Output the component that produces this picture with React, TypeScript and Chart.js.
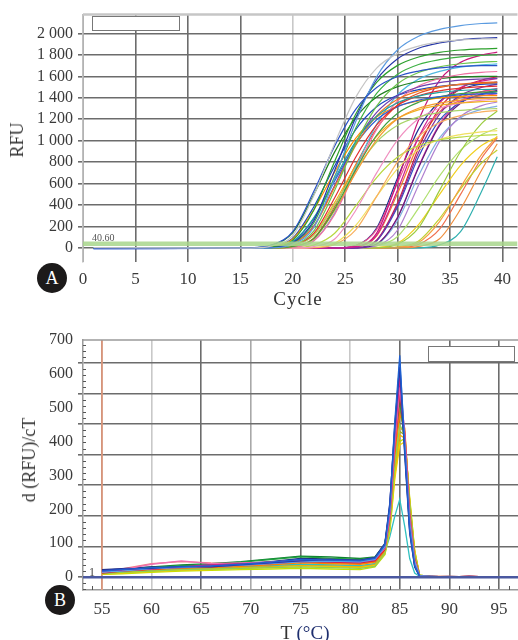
import React, { useEffect, useRef } from 'react';
import { Chart, registerables } from 'chart.js';

Chart.register(...registerables);

const FONT = "'Liberation Serif', 'DejaVu Serif', serif";

// ---------- Panel A: amplification curves ----------
const cycles = [1, 16, 18, 20, 22, 24, 26, 28, 30, 32, 34, 36, 38, 39.5];
const ampXTicks = [0, 5, 10, 15, 20, 25, 30, 35, 40];
const ampYTicks = [0, 200, 400, 600, 800, 1000, 1200, 1400, 1600, 1800, 2000];
const AMP_X_MIN = 0;
const AMP_X_MAX = 41.43;
const AMP_Y_MIN = -130;
const AMP_Y_MAX = 2175;
const THRESHOLD = 40.6;
const THRESHOLD_LABEL = '40.60';

const ampColors = [
  '#c4c4c4', '#2a52c8', '#5b9be0', '#2838a8', '#2ca02c', '#3cb043', '#6cc44c', '#20a0a0',
  '#f07820', '#e03030', '#3060d0', '#40a040', '#f59a30', '#7040b0', '#f070a0', '#a8d468',
  '#ff8c00', '#1848c0', '#208020', '#50b8e0', '#f0b020', '#e85020', '#f090c0', '#f8b060',
  '#b8d840', '#f0e060', '#d02090', '#8030a0', '#c8187a', '#3050c0', '#602080', '#e85090',
  '#d02040', '#b080d0', '#80b0e0', '#203090', '#e040a0', '#f08030', '#9ccc40', '#f09040',
  '#30b0b0', '#f0d020', '#f6a040', '#b0e070', '#c0d030', '#f07050',
];

const ampCurves: number[][] = [
  [3, 0, 20, 117, 488, 975, 1404, 1677, 1814, 1882, 1921, 1940, 1948, 1950],
  [-5, 2, 29, 153, 527, 952, 1292, 1496, 1598, 1649, 1678, 1693, 1700, 1700],
  [2, 0, 2, 36, 189, 651, 1176, 1596, 1848, 1974, 2037, 2073, 2092, 2098],
  [-3, 0, 4, 49, 255, 725, 1215, 1568, 1764, 1862, 1911, 1940, 1954, 1960],
  [4, 0, 9, 74, 353, 809, 1246, 1544, 1702, 1780, 1823, 1845, 1856, 1860],
  [0, 0, 4, 45, 234, 666, 1116, 1440, 1620, 1710, 1755, 1782, 1795, 1800],
  [-2, 0, 2, 30, 157, 539, 974, 1322, 1531, 1636, 1688, 1717, 1733, 1738],
  [3, 0, 7, 59, 281, 644, 992, 1228, 1354, 1416, 1450, 1468, 1477, 1480],
  [-4, 0, 3, 39, 200, 570, 955, 1232, 1386, 1463, 1502, 1525, 1535, 1540],
  [1, 0, 2, 26, 136, 468, 846, 1148, 1329, 1419, 1465, 1490, 1504, 1508],
  [-6, 0, 7, 58, 274, 626, 965, 1195, 1318, 1378, 1411, 1428, 1437, 1440],
  [2, 0, 0, 15, 88, 365, 730, 1051, 1256, 1358, 1409, 1438, 1453, 1457],
  [-3, 0, 0, 14, 84, 350, 700, 1008, 1204, 1302, 1351, 1379, 1393, 1397],
  [1, 0, 3, 40, 205, 585, 980, 1264, 1422, 1501, 1541, 1564, 1575, 1580],
  [0, 0, 0, 8, 66, 314, 718, 1106, 1370, 1510, 1579, 1617, 1637, 1645],
  [3, 0, 1, 22, 117, 403, 728, 988, 1144, 1222, 1261, 1283, 1295, 1299],
  [-2, 0, 14, 85, 355, 710, 1022, 1221, 1321, 1370, 1399, 1413, 1419, 1420],
  [2, 0, 15, 92, 383, 765, 1102, 1316, 1423, 1476, 1507, 1522, 1528, 1530],
  [0, 2, 27, 144, 496, 896, 1216, 1408, 1504, 1552, 1579, 1594, 1600, 1600],
  [-1, 0, 0, 9, 69, 327, 748, 1152, 1428, 1574, 1646, 1686, 1706, 1715],
  [0, 0, 1, 23, 123, 425, 767, 1041, 1206, 1288, 1329, 1352, 1365, 1369],
  [3, 0, 0, 16, 93, 388, 775, 1116, 1333, 1442, 1496, 1527, 1542, 1547],
  [0, 0, 0, 0, 14, 84, 350, 700, 1008, 1204, 1302, 1351, 1379, 1389],
  [0, 0, 0, 0, 3, 33, 169, 481, 806, 1040, 1170, 1235, 1268, 1283],
  [2, 0, 0, 2, 27, 138, 392, 657, 848, 954, 1007, 1034, 1049, 1056],
  [0, 0, 0, 0, 6, 44, 210, 481, 740, 917, 1011, 1057, 1083, 1094],
  [0, 0, 0, 0, 0, 0, 11, 120, 544, 1032, 1352, 1496, 1555, 1579],
  [3, 0, 0, 0, 0, 0, 3, 70, 403, 891, 1248, 1423, 1497, 1527],
  [-2, 0, 0, 0, 0, 0, 13, 139, 629, 1193, 1563, 1730, 1798, 1826],
  [0, 0, 0, 0, 0, 0, 3, 67, 385, 851, 1191, 1359, 1430, 1458],
  [2, 0, 0, 0, 0, 0, 2, 38, 285, 750, 1140, 1350, 1436, 1469],
  [0, 0, 0, 0, 0, 0, 22, 174, 609, 1030, 1269, 1375, 1420, 1437],
  [-3, 0, 0, 0, 0, 0, 3, 73, 421, 932, 1304, 1487, 1565, 1596],
  [0, 0, 0, 0, 0, 0, 0, 21, 168, 588, 994, 1225, 1327, 1361],
  [1, 0, 0, 0, 0, 0, 1, 34, 257, 675, 1026, 1215, 1292, 1322],
  [0, 0, 0, 0, 0, 0, 23, 187, 655, 1108, 1365, 1479, 1527, 1546],
  [0, 0, 0, 0, 0, 0, 2, 38, 289, 760, 1155, 1368, 1455, 1488],
  [2, 0, 0, 0, 0, 0, 11, 113, 510, 968, 1268, 1403, 1458, 1481],
  [0, 0, 0, 0, 0, 0, 0, 3, 36, 189, 537, 899, 1160, 1276],
  [0, 0, 0, 0, 0, 0, 0, 0, 0, 15, 87, 363, 725, 972],
  [0, 0, 0, 0, 0, 0, 0, 0, 0, 2, 29, 153, 527, 850],
  [0, 0, 0, 0, 0, 0, 0, 6, 46, 219, 500, 771, 955, 1035],
  [0, 0, 0, 0, 0, 0, 0, 0, 7, 52, 247, 566, 871, 1040],
  [0, 0, 0, 0, 0, 0, 1, 20, 108, 372, 672, 912, 1056, 1116],
  [0, 0, 0, 0, 0, 0, 0, 0, 11, 66, 275, 550, 792, 913],
  [0, 0, 0, 0, 0, 0, 0, 0, 3, 34, 176, 500, 837, 1026],
];

// ---------- Panel B: melt curves ----------
const temps = [55, 57, 60, 63, 66, 69, 72, 75, 78, 81, 82.5, 83.5, 84, 84.5, 85, 85.5, 86, 86.5, 87, 88, 90, 92, 95];
const meltXTicks = [55, 60, 65, 70, 75, 80, 85, 90, 95];
const meltYTicks = [0, 100, 200, 300, 400, 500, 600, 700];
const MELT_X_MIN = 53.09;
const MELT_X_MAX = 96.91;
const MELT_Y_MIN = -38;
const MELT_Y_MAX = 700;
const MELT_GRID_MIN = -42.5;
const MELT_GRID_MAX = 775;
const MELT_START = 55;

const meltColors = [
  '#1f5fd0', '#2838a8', '#5ba0e8', '#d0208a', '#f070b0', '#7030a0', '#e02020', '#20a040',
  '#8fd050', '#ff8000', '#f0d000', '#f5b000', '#30c0c0', '#00a8d8', '#203080', '#c01040',
  '#ffb030', '#9050d0', '#108030', '#c0e000', '#f08080', '#80c8f0', '#a0b020', '#e06020',
];

const meltCurves: number[][] = [
  [18, 22, 28, 30, 33, 38, 44, 52, 50, 48, 55, 95, 210, 460, 655, 380, 140, 35, 3, 2, 1, 2, 0],
  [20, 24, 26, 32, 30, 36, 42, 48, 52, 50, 58, 100, 220, 440, 620, 360, 130, 30, 2, 1, 2, 1, 0],
  [15, 18, 25, 28, 32, 35, 40, 45, 47, 45, 52, 90, 200, 430, 640, 400, 160, 45, 4, 2, 1, 1, 0],
  [16, 20, 24, 30, 36, 40, 42, 48, 46, 44, 50, 88, 190, 410, 590, 420, 170, 40, 3, 1, 1, 2, 0],
  [14, 22, 38, 48, 40, 42, 44, 50, 48, 46, 52, 85, 180, 390, 560, 430, 180, 50, 4, 2, 2, 1, 0],
  [18, 20, 26, 30, 34, 38, 45, 50, 52, 49, 55, 92, 205, 420, 570, 390, 150, 38, 3, 2, 1, 1, 0],
  [12, 18, 24, 28, 30, 36, 40, 46, 44, 42, 48, 82, 175, 380, 540, 420, 190, 55, 5, 2, 1, 2, 0],
  [15, 20, 28, 34, 36, 44, 52, 60, 56, 52, 58, 96, 195, 400, 520, 400, 170, 45, 4, 2, 1, 1, 0],
  [10, 14, 18, 22, 24, 26, 28, 30, 28, 26, 32, 70, 150, 330, 450, 420, 220, 70, 6, 2, 1, 1, 0],
  [12, 16, 22, 26, 28, 32, 36, 42, 40, 38, 44, 78, 165, 350, 480, 440, 210, 65, 5, 2, 1, 2, 0],
  [8, 12, 16, 20, 22, 25, 28, 30, 30, 28, 34, 68, 135, 290, 390, 400, 230, 80, 6, 2, 1, 1, 0],
  [10, 14, 18, 22, 24, 28, 30, 34, 32, 30, 36, 72, 145, 310, 420, 410, 225, 75, 5, 3, 2, 1, 0],
  [12, 16, 20, 24, 28, 30, 34, 38, 36, 34, 40, 75, 120, 180, 230, 150, 55, 12, 2, 1, 1, 1, 0],
  [16, 20, 26, 30, 34, 38, 42, 48, 46, 44, 50, 90, 200, 420, 600, 380, 150, 40, 3, 2, 1, 1, 0],
  [22, 25, 30, 32, 36, 40, 46, 55, 54, 50, 56, 98, 215, 450, 630, 370, 135, 32, 2, 1, 1, 1, 0],
  [14, 18, 22, 28, 32, 38, 44, 50, 48, 46, 52, 88, 185, 400, 560, 400, 165, 42, 3, 2, 1, 2, 0],
  [10, 14, 20, 24, 26, 30, 34, 38, 36, 34, 40, 74, 155, 330, 440, 430, 215, 70, 5, 2, 1, 1, 0],
  [15, 19, 25, 30, 33, 37, 43, 50, 48, 46, 52, 90, 195, 415, 580, 395, 155, 40, 3, 2, 1, 1, 0],
  [18, 22, 30, 36, 40, 46, 54, 62, 60, 55, 60, 98, 200, 410, 540, 390, 160, 42, 3, 2, 1, 1, 0],
  [8, 10, 14, 18, 20, 22, 24, 26, 24, 22, 30, 66, 140, 300, 400, 410, 235, 78, 6, 2, 1, 1, 0],
  [12, 24, 40, 46, 42, 40, 42, 48, 46, 44, 50, 86, 180, 385, 520, 420, 185, 52, 4, 2, 1, 1, 0],
  [14, 18, 24, 28, 30, 34, 40, 46, 44, 42, 48, 86, 190, 410, 610, 390, 150, 40, 3, 2, 1, 1, 0],
  [10, 14, 18, 22, 24, 28, 32, 36, 34, 32, 38, 72, 150, 320, 430, 420, 220, 72, 5, 2, 1, 1, 0],
  [12, 16, 22, 26, 30, 34, 38, 44, 42, 40, 46, 80, 170, 360, 500, 430, 200, 60, 4, 2, 1, 2, 0],
];

const tickFont = { family: FONT, size: 16 };
const xTickFont = { family: FONT, size: 17 };

const fmtThousands = (v: number) =>
  v >= 1000 ? `${Math.floor(v / 1000)} ${String(v % 1000).padStart(3, '0')}` : String(v);

const framePlugin = (color: string, width: number) => ({
  id: 'frameTop',
  afterDraw(chart: any) {
    const { ctx, chartArea } = chart;
    ctx.save();
    ctx.strokeStyle = color;
    ctx.lineWidth = width;
    ctx.beginPath();
    ctx.moveTo(chartArea.left, chartArea.top);
    ctx.lineTo(chartArea.right, chartArea.top);
    ctx.stroke();
    ctx.restore();
  },
});

const minorTicksPlugin = {
  id: 'minorTicks',
  afterDraw(chart: any) {
    const { ctx, chartArea, scales } = chart;
    const xs = scales.x;
    const yg = scales.yg;
    ctx.save();
    ctx.strokeStyle = '#555';
    ctx.lineWidth = 1;
    ctx.beginPath();
    for (let v = Math.ceil(MELT_X_MIN); v <= MELT_X_MAX; v++) {
      if (v % 5 === 0) continue;
      const px = Math.round(xs.getPixelForValue(v)) + 0.5;
      ctx.moveTo(px, chartArea.bottom);
      ctx.lineTo(px, chartArea.bottom - 4);
    }
    for (let v = -40; v <= MELT_GRID_MAX; v += 20) {
      if (v % 100 === 0) continue;
      const py = Math.round(yg.getPixelForValue(v)) + 0.5;
      if (py < chartArea.top || py > chartArea.bottom) continue;
      ctx.moveTo(chartArea.left, py);
      ctx.lineTo(chartArea.left + 3, py);
    }
    ctx.stroke();
    ctx.restore();
  },
};

const meltStartPlugin = {
  id: 'meltStart',
  beforeDatasetsDraw(chart: any) {
    const { ctx, chartArea, scales } = chart;
    const px = scales.x.getPixelForValue(MELT_START);
    ctx.save();
    ctx.strokeStyle = '#f2a080';
    ctx.lineWidth = 1.5;
    ctx.beginPath();
    ctx.moveTo(px, chartArea.top);
    ctx.lineTo(px, chartArea.bottom);
    ctx.stroke();
    ctx.restore();
  },
};

export default function App() {
  const aRef = useRef<HTMLCanvasElement>(null);
  const bRef = useRef<HTMLCanvasElement>(null);

  useEffect(() => {
    const ampDatasets: any[] = [
      {
        data: [
          { x: AMP_X_MIN, y: THRESHOLD },
          { x: AMP_X_MAX, y: THRESHOLD },
        ],
        borderColor: 'rgba(168,214,140,0.85)',
        borderWidth: 4.5,
        pointRadius: 0,
        order: -1,
      },
      ...ampCurves.map((curve, i) => ({
        data: cycles.map((c, j) => ({ x: c, y: curve[j] })),
        borderColor: ampColors[i],
        borderWidth: 1.2,
        pointRadius: 0,
        cubicInterpolationMode: 'monotone',
        fill: false,
      })),
    ];

    const a = new Chart(aRef.current!, {
      type: 'line',
      data: { datasets: ampDatasets },
      options: {
        responsive: false,
        animation: false,
        events: [],
        layout: { padding: { top: 10, right: 0, left: 0, bottom: 0 } },
        plugins: { legend: { display: false }, tooltip: { enabled: false } },
        scales: {
          x: {
            type: 'linear',
            min: AMP_X_MIN,
            max: AMP_X_MAX,
            afterBuildTicks: (s: any) => {
              s.ticks = ampXTicks.map((v) => ({ value: v }));
            },
            afterFit: (s: any) => {
              s.height = 38;
            },
            grid: {
              color: (ctx: any) => (ctx.tick && ctx.tick.value === 20 ? '#c8c8c8' : '#6c6c6c'),
              lineWidth: 1.6,
              drawTicks: false,
            },
            border: { display: false },
            ticks: { padding: 7, font: xTickFont, color: '#3a3a3a', maxRotation: 0, autoSkip: false },
          },
          y: {
            type: 'linear',
            min: AMP_Y_MIN,
            max: AMP_Y_MAX,
            afterBuildTicks: (s: any) => {
              s.ticks = ampYTicks.map((v) => ({ value: v }));
            },
            afterFit: (s: any) => {
              s.width = 83;
            },
            grid: { color: '#6c6c6c', lineWidth: 1.6, tickLength: 5 },
            border: { color: '#c0c0c0', width: 1.5 },
            ticks: {
              padding: 5,
              font: tickFont,
              color: '#3a3a3a',
              autoSkip: false,
              callback: (v: any) => fmtThousands(Number(v)),
            },
          },
        },
      } as any,
      plugins: [framePlugin('#c6c6c6', 2.5)],
    });

    const meltDatasets: any[] = [
      {
        data: [
          { x: MELT_X_MIN, y: 0 },
          { x: MELT_X_MAX, y: 0 },
        ],
        borderColor: '#4a58a0',
        borderWidth: 2.5,
        pointRadius: 0,
        yAxisID: 'yl',
        order: -1,
      },
      ...meltCurves.map((curve, i) => ({
        data: temps.map((t, j) => ({ x: t, y: curve[j] })),
        borderColor: meltColors[i],
        borderWidth: 1.3,
        pointRadius: 0,
        tension: 0,
        fill: false,
        yAxisID: 'yl',
      })),
    ];

    const b = new Chart(bRef.current!, {
      type: 'line',
      data: { datasets: meltDatasets },
      options: {
        responsive: false,
        animation: false,
        events: [],
        layout: { padding: { top: 15, right: 0, left: 0, bottom: 0 } },
        plugins: { legend: { display: false }, tooltip: { enabled: false } },
        scales: {
          x: {
            type: 'linear',
            min: MELT_X_MIN,
            max: MELT_X_MAX,
            afterBuildTicks: (s: any) => {
              s.ticks = meltXTicks.map((v) => ({ value: v }));
            },
            afterFit: (s: any) => {
              s.height = 50;
            },
            grid: {
              color: (ctx: any) => {
                const v = ctx.tick && ctx.tick.value;
                if (v === 60 || v === 80) return '#c8c8c8';
                if (v === 70) return '#a8a8a8';
                return '#6c6c6c';
              },
              lineWidth: 1.6,
              drawTicks: false,
            },
            border: { display: true, color: '#9a9a9a', width: 1.5 },
            ticks: { padding: 9, font: xTickFont, color: '#3a3a3a', maxRotation: 0, autoSkip: false },
          },
          yl: {
            type: 'linear',
            position: 'left',
            weight: 1,
            min: MELT_Y_MIN,
            max: MELT_Y_MAX,
            afterBuildTicks: (s: any) => {
              s.ticks = meltYTicks.map((v) => ({ value: v }));
            },
            afterFit: (s: any) => {
              s.width = 77;
            },
            grid: { display: false, drawTicks: false },
            border: { display: false },
            ticks: { padding: 4, font: tickFont, color: '#3a3a3a', autoSkip: false },
          },
          yg: {
            type: 'linear',
            position: 'left',
            weight: 0,
            min: MELT_GRID_MIN,
            max: MELT_GRID_MAX,
            afterBuildTicks: (s: any) => {
              s.ticks = meltYTicks.map((v) => ({ value: v }));
            },
            afterFit: (s: any) => {
              s.width = 6;
            },
            grid: { color: '#6c6c6c', lineWidth: 1.6, tickLength: 5 },
            border: { color: '#9a9a9a', width: 1.5 },
            ticks: { display: false },
          },
        },
      } as any,
      plugins: [framePlugin('#9a9a9a', 1.5), minorTicksPlugin, meltStartPlugin],
    });

    return () => {
      a.destroy();
      b.destroy();
    };
  }, []);

  const textBase: React.CSSProperties = {
    position: 'absolute',
    fontFamily: FONT,
    color: '#333',
    whiteSpace: 'nowrap',
    pointerEvents: 'none',
    lineHeight: 1,
  };

  const badge = (cx: number, cy: number, letter: string) => (
    <div
      style={{
        position: 'absolute',
        left: cx - 15,
        top: cy - 15,
        width: 30,
        height: 30,
        borderRadius: '50%',
        background: '#1c1a1a',
        color: '#fff',
        fontFamily: FONT,
        fontSize: 18,
        display: 'flex',
        alignItems: 'center',
        justifyContent: 'center',
      }}
    >
      {letter}
    </div>
  );

  return (
    <div
      style={{
        position: 'fixed',
        left: 0,
        top: 0,
        width: 518,
        height: 640,
        background: '#fff',
        overflow: 'hidden',
      }}
    >
      <canvas ref={aRef} width={518} height={300} style={{ position: 'absolute', left: 0, top: 0 }} />
      <canvas ref={bRef} width={518} height={315} style={{ position: 'absolute', left: 0, top: 325 }} />

      {/* Panel A texts */}
      <div style={{ ...textBase, left: 17, top: 140, fontSize: 18, transform: 'translate(-50%,-50%) rotate(-90deg)' }}>
        RFU
      </div>
      <div style={{ ...textBase, left: 298, top: 298, fontSize: 19, transform: 'translate(-50%,-50%)', letterSpacing: 1 }}>
        Cycle
      </div>
      <div style={{ ...textBase, left: 92, top: 233, fontSize: 10, color: '#555' }}>{THRESHOLD_LABEL}</div>
      <div
        style={{
          position: 'absolute',
          left: 92,
          top: 16,
          width: 86,
          height: 13,
          border: '1.5px solid #777',
          background: '#fff',
        }}
      />
      {badge(52, 278, 'A')}

      {/* Panel B texts */}
      <div style={{ ...textBase, left: 29, top: 460, fontSize: 18, transform: 'translate(-50%,-50%) rotate(-90deg)' }}>
        d (RFU)/cT
      </div>
      <div style={{ ...textBase, left: 305, top: 632, fontSize: 19, transform: 'translate(-50%,-50%)' }}>
        T <span style={{ color: '#1e2e6e' }}>(°C)</span>
      </div>
      <div style={{ ...textBase, left: 89, top: 566, fontSize: 12, color: '#444' }}>1</div>
      <div
        style={{
          position: 'absolute',
          left: 428,
          top: 346,
          width: 85,
          height: 14,
          border: '1.5px solid #777',
          background: '#fff',
        }}
      />
      {badge(60, 600, 'B')}
    </div>
  );
}
